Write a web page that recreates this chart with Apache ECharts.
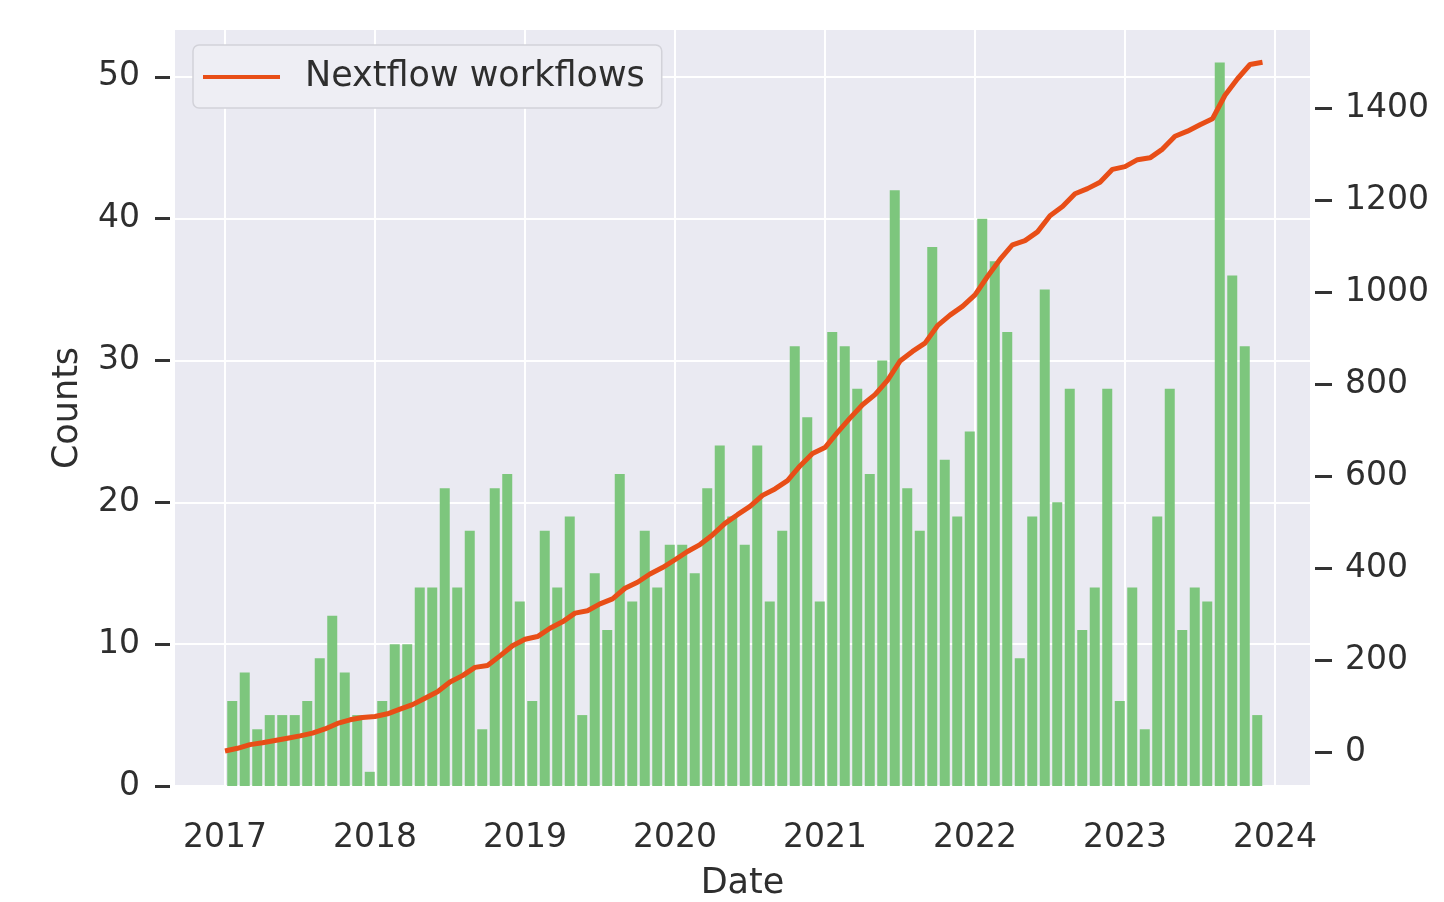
<!DOCTYPE html>
<html>
<head>
<meta charset="utf-8">
<script src="https://cdn.jsdelivr.net/npm/echarts@6/dist/echarts.min.js"></script>
<style>
html,body{margin:0;padding:0;background:#ffffff;}
#chart{width:1444px;height:902px;}
</style>
</head>
<body>
<div id="chart"></div>
<script>
// ---- data ----
const months = [
  '2017-01','2017-02','2017-03','2017-04','2017-05','2017-06','2017-07','2017-08','2017-09','2017-10','2017-11','2017-12',
  '2018-01','2018-02','2018-03','2018-04','2018-05','2018-06','2018-07','2018-08','2018-09','2018-10','2018-11','2018-12',
  '2019-01','2019-02','2019-03','2019-04','2019-05','2019-06','2019-07','2019-08','2019-09','2019-10','2019-11','2019-12',
  '2020-01','2020-02','2020-03','2020-04','2020-05','2020-06','2020-07','2020-08','2020-09','2020-10','2020-11','2020-12',
  '2021-01','2021-02','2021-03','2021-04','2021-05','2021-06','2021-07','2021-08','2021-09','2021-10','2021-11','2021-12',
  '2022-01','2022-02','2022-03','2022-04','2022-05','2022-06','2022-07','2022-08','2022-09','2022-10','2022-11','2022-12',
  '2023-01','2023-02','2023-03','2023-04','2023-05','2023-06','2023-07','2023-08','2023-09','2023-10','2023-11'
];
const monthlyCounts = [
  6, 8, 4, 5, 5, 5, 6, 9, 12, 8, 5, 1,
  6, 10, 10, 14, 14, 21, 14, 18, 4, 21, 22, 13,
  6, 18, 14, 19, 5, 15, 11, 22, 13, 18, 14, 17,
  17, 15, 21, 24, 19, 17, 24, 13, 18, 31, 26, 13,
  32, 31, 28, 22, 30, 42, 21, 18, 38, 23, 19, 25,
  40, 37, 32, 9, 19, 35, 20, 28, 11, 14, 28, 6,
  14, 4, 19, 28, 11, 14, 13, 51, 36, 31, 5
];
// cumulative line, sampled at each month boundary (start of 2017-01 ... start of 2023-12)
const lineDates = months.concat(['2023-12']);
const cumulativeWorkflows = [
  2,
  8, 16, 20, 25, 30, 35, 41, 50, 62, 70, 75, 77,
  83, 93, 103, 117, 131, 152, 166, 184, 188, 209, 231, 245,
  251, 269, 283, 302, 307, 322, 333, 356, 369, 387, 401, 418,
  436, 451, 472, 497, 516, 534, 558, 572, 590, 622, 649, 662,
  695, 726, 755, 777, 808, 850, 871, 889, 927, 950, 969, 994,
  1034, 1071, 1103, 1112, 1131, 1166, 1186, 1214, 1225, 1239, 1267, 1273,
  1288, 1292, 1311, 1339, 1350, 1364, 1377, 1428, 1464, 1495, 1500
];
const yearTicks = [2017, 2018, 2019, 2020, 2021, 2022, 2023, 2024];
const countTicks = [0, 10, 20, 30, 40, 50];
const cumulativeTicks = [0, 200, 400, 600, 800, 1000, 1200, 1400];
const seriesName = 'Nextflow workflows';

// ---- helpers: month string -> fractional year on the date axis ----
function monthToYear(s, fracOfMonth) {
  const p = s.split('-');
  return Number(p[0]) + (Number(p[1]) - 1 + fracOfMonth) / 12;
}

const FONT = 'DejaVu Sans';
const TXT = '#2e2e2e';
const plain = v => String(Math.round(v));

const barData = months.map((m, i) => [monthToYear(m, 0.58), monthlyCounts[i]]);
const lineData = lineDates.map((m, i) => [monthToYear(m, 0), cumulativeWorkflows[i]]);

const chart = echarts.init(document.getElementById('chart'), null, {renderer: 'canvas'});
chart.setOption({
  animation: false,
  textStyle: {fontFamily: FONT},
  grid: {
    left: 175, right: 134, top: 30, bottom: 116,
    containLabel: false, outerBoundsMode: 'none',
    show: true, backgroundColor: '#eaeaf2', borderWidth: 0
  },
  legend: {
    data: [{name: seriesName, icon: 'rect'}],
    left: 193, top: 45,
    itemWidth: 77, itemHeight: 4,
    padding: [14, 17, 13, 10],
    backgroundColor: '#eeeef4',
    borderColor: '#d2d2d9', borderWidth: 1.5, borderRadius: 6,
    textStyle: {fontFamily: FONT, fontSize: 35, color: TXT, lineHeight: 36, padding: [0, 0, 0, 20]}
  },
  xAxis: {
    type: 'value',
    min: 2016.6667, max: 2024.2333,
    name: 'Date', nameLocation: 'middle', nameGap: 80,
    nameTextStyle: {fontFamily: FONT, fontSize: 35, color: TXT},
    axisLine: {show: false},
    axisTick: {show: false, customValues: yearTicks},
    axisLabel: {customValues: yearTicks, fontFamily: FONT, fontSize: 33, color: TXT, margin: 36,
      formatter: plain},
    splitLine: {show: true, lineStyle: {color: '#ffffff', width: 2}}
  },
  yAxis: [
    {
      type: 'value', position: 'left',
      min: 0, max: 53.3, offset: 5,
      name: 'Counts', nameLocation: 'middle', nameGap: 85, nameRotate: 90,
      nameTextStyle: {fontFamily: FONT, fontSize: 35, color: TXT},
      axisLine: {show: false},
      axisTick: {show: true, length: 15, customValues: countTicks, lineStyle: {color: '#333', width: 3}},
      axisLabel: {customValues: countTicks, fontFamily: FONT, fontSize: 33, color: TXT, margin: 30, formatter: plain},
      splitLine: {show: true, lineStyle: {color: '#ffffff', width: 2}}
    },
    {
      type: 'value', position: 'right',
      min: -74, max: 1570, offset: 5,
      axisLine: {show: false},
      axisTick: {show: true, length: 17, customValues: cumulativeTicks, lineStyle: {color: '#333', width: 3}},
      axisLabel: {customValues: cumulativeTicks, fontFamily: FONT, fontSize: 33, color: TXT, margin: 30, formatter: plain},
      splitLine: {show: false}
    }
  ],
  series: [
    {
      name: 'Monthly counts', type: 'bar', xAxisIndex: 0, yAxisIndex: 0,
      data: barData, barWidth: 10,
      itemStyle: {color: '#7dc67d'},
      z: 2
    },
    {
      name: seriesName, type: 'line', xAxisIndex: 0, yAxisIndex: 1,
      data: lineData, showSymbol: false, symbol: 'none',
      lineStyle: {color: '#e84e17', width: 5},
      itemStyle: {color: '#e84e17'},
      z: 3
    }
  ]
});
</script>
</body>
</html>
